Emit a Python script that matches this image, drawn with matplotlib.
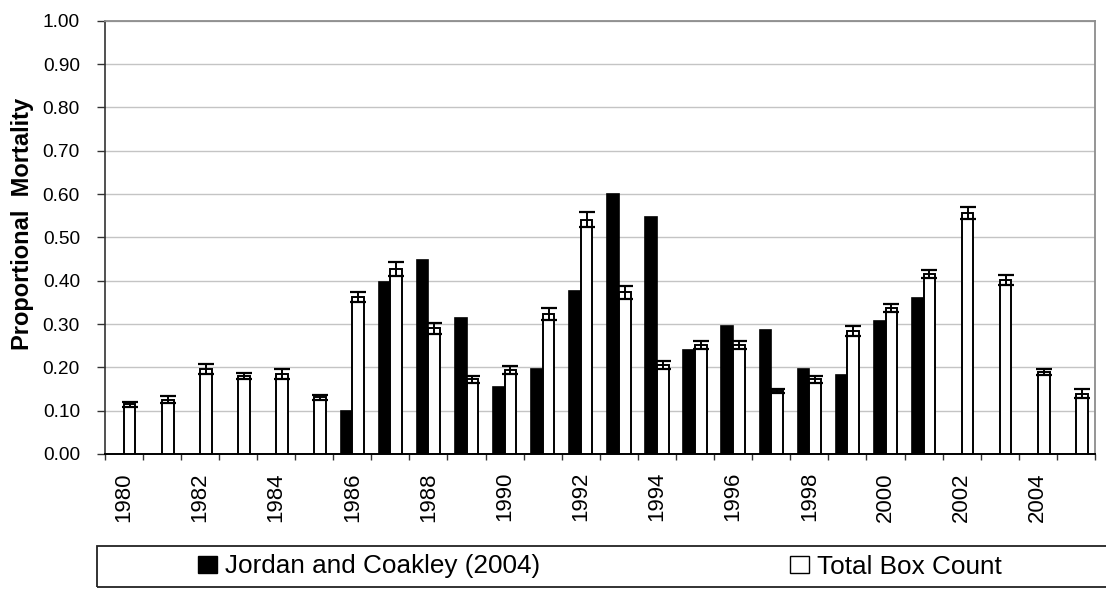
import numpy as np
import matplotlib
matplotlib.use("Agg")
import matplotlib.pyplot as plt
from matplotlib.patches import Patch, Rectangle
from matplotlib.ticker import FixedLocator, FormatStrFormatter

plt.rcParams['font.family'] = ['Liberation Sans', 'DejaVu Sans']

# Survey years
years = list(range(1980, 2006))

# Jordan and Coakley (2004) estimates (only 1986-2001 available)
jordan = [np.nan, np.nan, np.nan, np.nan, np.nan, np.nan,
          0.100, 0.396, 0.448, 0.315, 0.155, 0.197, 0.377, 0.600,
          0.547, 0.241, 0.296, 0.286, 0.197, 0.182, 0.307, 0.359,
          np.nan, np.nan, np.nan, np.nan]

# Total box count estimates and their error
box_count = [0.115, 0.125, 0.196, 0.181, 0.185, 0.131, 0.362, 0.427,
             0.290, 0.173, 0.194, 0.323, 0.541, 0.373, 0.205, 0.252,
             0.252, 0.146, 0.173, 0.284, 0.337, 0.416, 0.556, 0.402,
             0.189, 0.139]
box_err = [0.006, 0.008, 0.011, 0.007, 0.011, 0.006, 0.011, 0.017,
           0.013, 0.008, 0.009, 0.013, 0.017, 0.015, 0.009, 0.009,
           0.009, 0.005, 0.008, 0.011, 0.010, 0.009, 0.013, 0.011,
           0.007, 0.010]

W, H = 1106, 589
fig = plt.figure(figsize=(W / 100, H / 100), dpi=100)
ax = fig.add_axes([104.7 / W, 1 - 454 / H, (1095 - 104.7) / W, (454 - 20.7) / H])

x = np.arange(len(years))
bw = 0.307

jx = np.array([xi for xi, v in zip(x, jordan) if not np.isnan(v)])
jv = np.array([v for v in jordan if not np.isnan(v)])
ax.bar(jx - bw / 2, jv, width=bw, color='black', edgecolor='black',
       linewidth=1.2, zorder=3)
ax.bar(x + bw / 2, box_count, width=bw, color='white', edgecolor='black',
       linewidth=1.4, zorder=3)
ax.errorbar(x + bw / 2, box_count, yerr=box_err, fmt='none', ecolor='black',
            elinewidth=1.4, capsize=5.8, capthick=1.6, zorder=4)

ax.set_xlim(-0.5, len(years) - 0.5)
ax.set_ylim(0, 1.0)
ax.set_yticks(np.arange(0, 1.01, 0.1))
ax.yaxis.set_major_formatter(FormatStrFormatter('%.2f'))
ax.yaxis.grid(True, color='#c4c4c4', linewidth=1.0, zorder=0)
ax.set_axisbelow(True)

# Year labels on every other category; tick marks on category boundaries
ax.xaxis.set_major_locator(FixedLocator(x[::2]))
ax.set_xticklabels([str(y) for y in years[::2]], rotation=90)
ax.xaxis.set_minor_locator(FixedLocator(np.arange(-0.5, len(years), 1.0)))
ax.tick_params(axis='x', which='major', length=0, pad=13, labelsize=16)
ax.tick_params(axis='x', which='minor', length=4, width=1.0, direction='out',
               color='#333333')
ax.tick_params(axis='y', length=5.8, width=1.0, direction='out',
               pad=12, labelsize=13.8, color='#333333')

for side in ('top', 'right'):
    ax.spines[side].set_color('#8c8c8c')
    ax.spines[side].set_linewidth(1.3)
ax.spines['left'].set_color('#333333')
ax.spines['left'].set_linewidth(1.2)
ax.spines['bottom'].set_color('black')
ax.spines['bottom'].set_linewidth(1.4)

ax.set_ylabel('Proportional  Mortality', fontsize=17, fontweight='bold')
ax.yaxis.set_label_coords((34 - 104.7) / (1095 - 104.7), 0.53)

# Legend band along the bottom
fig.patches.append(Rectangle((97 / W, 1 - 587 / H), (1120 - 97) / W, 41 / H,
                             transform=fig.transFigure, fill=False,
                             edgecolor='#222222', linewidth=1.3))
leg_y = 1 - 566.5 / H
common = dict(frameon=False, loc='center left', borderpad=0, borderaxespad=0,
              handlelength=0.73, handleheight=0.65, handletextpad=0.3,
              fontsize=18.8)
leg1 = fig.legend([Patch(facecolor='black', edgecolor='black')],
                  ['Jordan and Coakley (2004)'],
                  bbox_to_anchor=(198 / W, leg_y), **common)
leg2 = fig.legend([Patch(facecolor='white', edgecolor='black', linewidth=1.0)],
                  ['Total Box Count'],
                  bbox_to_anchor=(790 / W, leg_y), **common)

fig.savefig('out.png', dpi=100)
